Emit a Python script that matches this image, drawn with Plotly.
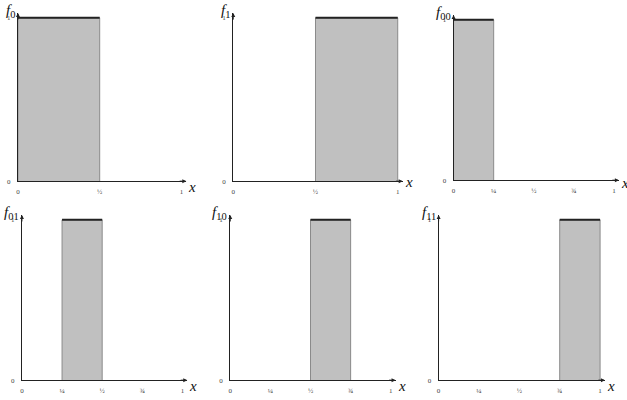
import plotly.graph_objects as go

# ---- data ----
subscripts = ["0", "1", "00", "01", "10", "11"]
starts = [0.0, 0.5, 0.0, 0.25, 0.5, 0.75]
ends = [0.5, 1.0, 0.25, 0.5, 0.75, 1.0]
heights = [1, 1, 1, 1, 1, 1]
half_ticks = [0, 0.5, 1]
half_labels = ["0", "½", "1"]
quarter_ticks = [0, 0.25, 0.5, 0.75, 1]
quarter_labels = ["0", "¼", "½", "¾", "1"]
xtick_sets = [(half_ticks, half_labels), (half_ticks, half_labels)] + [(quarter_ticks, quarter_labels)] * 4
ytick_vals = [0, 1]
ytick_labels = ["0", "1"]

# ---- layout (pixel geometry per panel: origin x, origin y, unit x, unit y) ----
W, H = 627, 400
geom = [
    (16, 183, 164, 165),
    (232, 183, 165, 165),
    (453, 182, 161, 162),
    (20, 384, 161, 162),
    (229, 384, 161, 162),
    (438, 384, 162, 162),
]
xlab_drop = [6, 1, 3, 6, 6, 6]
XMAX, YMAX = 1.03, 1.03
SERIF = "Liberation Serif, DejaVu Serif, Times New Roman, serif"

fig = go.Figure()
layout = dict(
    width=W, height=H, margin=dict(l=0, r=0, t=0, b=0),
    paper_bgcolor="white", plot_bgcolor="white", showlegend=False,
)
annotations = []

for i, (sub, a, b, h) in enumerate(zip(subscripts, starts, ends, heights)):
    ox, oy, ux, uy = geom[i]
    n = "" if i == 0 else str(i + 1)
    xa, ya = "x" + n, "y" + n
    xk, yk = "xaxis" + n, "yaxis" + n
    tv, tt = xtick_sets[i]
    layout[xk] = dict(
        domain=[ox / W, (ox + ux * XMAX) / W], range=[0, XMAX], anchor=ya,
        showline=True, linecolor="#222", linewidth=1, showgrid=False, zeroline=False,
        tickvals=tv, ticktext=tt, ticks="outside", ticklen=3, tickcolor="rgba(0,0,0,0)",
        tickfont=dict(family=SERIF, size=7, color="#444"), fixedrange=True,
    )
    layout[yk] = dict(
        domain=[1 - oy / H, 1 - (oy - uy * YMAX) / H], range=[0, YMAX], anchor=xa,
        showline=True, linecolor="#222", linewidth=1, showgrid=False, zeroline=False,
        tickvals=ytick_vals, ticktext=ytick_labels, ticks="outside", ticklen=5,
        tickcolor="rgba(0,0,0,0)",
        tickfont=dict(family=SERIF, size=7, color="#444"), fixedrange=True,
    )
    fig.add_trace(go.Scatter(
        x=[a, a, b, b], y=[0, h, h, 0], xaxis=xa, yaxis=ya, mode="lines",
        fill="toself", fillcolor="#c0c0c0", line=dict(color="#8a8a8a", width=1),
        hoverinfo="skip", cliponaxis=False,
    ))
    fig.add_trace(go.Scatter(
        x=[a, b], y=[h, h], xaxis=xa, yaxis=ya, mode="lines",
        line=dict(color="#222", width=2), hoverinfo="skip", cliponaxis=False,
    ))
    # arrowheads
    annotations.append(dict(
        x=XMAX, y=0, ax=XMAX - 0.05, ay=0, xref=xa, yref=ya, axref=xa, ayref=ya,
        showarrow=True, arrowhead=2, arrowsize=0.8, arrowwidth=1, arrowcolor="#222", text="",
    ))
    annotations.append(dict(
        x=0, y=YMAX, ax=0, ay=YMAX - 0.05, xref=xa, yref=ya, axref=xa, ayref=ya,
        showarrow=True, arrowhead=2, arrowsize=0.8, arrowwidth=1, arrowcolor="#222", text="",
    ))
    # function label
    annotations.append(dict(
        x=0, y=YMAX, xref=xa, yref=ya, xanchor="right", yanchor="top",
        xshift=-1, yshift=13, showarrow=False,
        text="<i>f</i><sub>%s</sub>" % sub,
        font=dict(family=SERIF, size=15, color="#111"),
    ))
    # x label
    annotations.append(dict(
        x=XMAX, y=0, xref=xa, yref=ya, xanchor="left", yanchor="middle",
        xshift=0, yshift=-xlab_drop[i], showarrow=False,
        text="<i>x</i>", font=dict(family=SERIF, size=15, color="#111"),
    ))

layout["annotations"] = annotations
fig.update_layout(**layout)
fig.write_html("out.html")
